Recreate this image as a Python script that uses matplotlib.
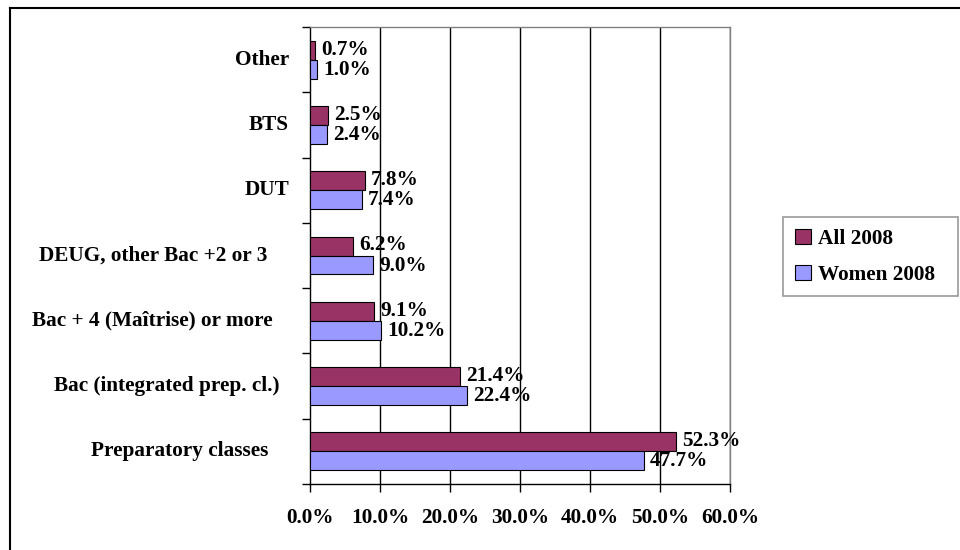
import matplotlib
matplotlib.use("Agg")
import matplotlib.pyplot as plt
from matplotlib.lines import Line2D
from matplotlib.patches import Patch
import numpy as np

categories = ["Preparatory classes", "Bac (integrated prep. cl.)",
              "Bac + 4 (Maîtrise) or more", "DEUG, other Bac +2 or 3",
              "DUT", "BTS", "Other"]
all_2008 = [52.3, 21.4, 9.1, 6.2, 7.8, 2.5, 0.7]
women_2008 = [47.7, 22.4, 10.2, 9.0, 7.4, 2.4, 1.0]
series_names = ["All 2008", "Women 2008"]
xticks = [0, 10, 20, 30, 40, 50, 60]

C_ALL = "#993366"
C_WOM = "#9999FF"
FONT = "Liberation Serif"
FS = 15.3

plt.rcParams["font.family"] = [FONT, "DejaVu Serif"]
plt.rcParams["font.weight"] = "bold"

fig = plt.figure(figsize=(9.6, 5.5), dpi=100)
W, H = 960, 550
ax = fig.add_axes([310 / W, 1 - 484 / H, 420 / W, (484 - 27) / H])

y = np.arange(len(categories))
h = 0.29
ax.barh(y + h / 2, all_2008, height=h, color=C_ALL, edgecolor="black", linewidth=0.8, zorder=3)
ax.barh(y - h / 2, women_2008, height=h, color=C_WOM, edgecolor="black", linewidth=0.8, zorder=3)

for yi, v in zip(y, all_2008):
    ax.text(v + 0.9, yi + h / 2 + 0.01, f"{v:.1f}%", va="center", ha="left",
            fontsize=FS, fontweight="bold", zorder=4)
for yi, v in zip(y, women_2008):
    ax.text(v + 0.9, yi - h / 2 - 0.01, f"{v:.1f}%", va="center", ha="left",
            fontsize=FS, fontweight="bold", zorder=4)

ax.set_xlim(0, 60)
ax.set_ylim(-0.5, len(categories) - 0.5)
ax.set_xticks(xticks)
ax.set_xticklabels([f"{t:.1f}%" for t in xticks], fontsize=FS, fontweight="bold")
ax.tick_params(axis="x", direction="out", length=6, width=1, pad=11, colors="black")

for t in xticks[1:]:
    ax.axvline(t, color="black", linewidth=1, zorder=1)

# y axis: ticks at category boundaries, labels placed manually
ax.set_yticks(np.arange(-0.5, len(categories), 1.0))
ax.set_yticklabels([])
ax.tick_params(axis="y", direction="out", length=6, width=1)

right_edges = [268, 279, 273, 267, 289, 289, 289]
for yi, lab, re in zip(y, categories, right_edges):
    ax.text((re - 310) / 420, yi, lab, transform=ax.get_yaxis_transform(),
            ha="right", va="center", fontsize=FS, fontweight="bold")

for s in ["left", "bottom"]:
    ax.spines[s].set_color("black")
    ax.spines[s].set_linewidth(1)
for s in ["top", "right"]:
    ax.spines[s].set_color("#808080")
    ax.spines[s].set_linewidth(1)

handles = [Patch(facecolor=C_ALL, edgecolor="black", linewidth=0.8),
           Patch(facecolor=C_WOM, edgecolor="black", linewidth=0.8)]
leg = fig.legend(handles, series_names, loc="upper left",
                 bbox_to_anchor=(783 / W, 1 - 290 / H, 175 / W, 73 / H), mode="expand",
                 frameon=True, fancybox=False, shadow=False,
                 prop={"family": FONT, "weight": "bold", "size": FS},
                 handlelength=0.75, handleheight=0.7, handletextpad=0.35,
                 labelspacing=0.75, borderpad=0.55, borderaxespad=0)
leg.get_frame().set_edgecolor("#808080")
leg.get_frame().set_linewidth(1.2)

# outer chart border
fig.add_artist(Line2D([10 / W, 10 / W], [0, 1 - 8 / H], color="black", linewidth=1.5))
fig.add_artist(Line2D([10 / W, 1], [1 - 8 / H, 1 - 8 / H], color="black", linewidth=1.5))

fig.savefig("out.png", dpi=100, facecolor="white")
